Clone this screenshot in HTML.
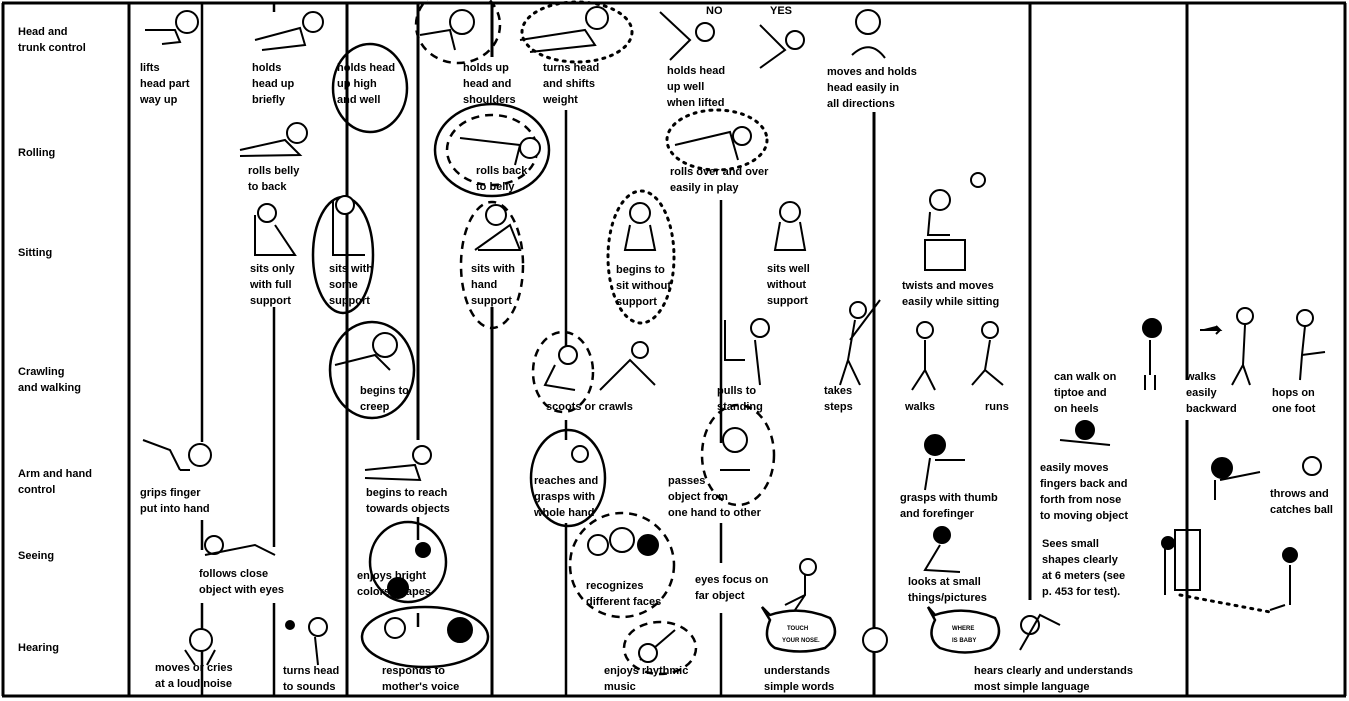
<!DOCTYPE html>
<html><head><meta charset="utf-8"><style>
html,body{margin:0;padding:0;background:#fff;}
svg{display:block;}
text{font-family:"Liberation Sans",sans-serif;font-size:11px;font-weight:bold;fill:#000;}
.l{stroke:#000;stroke-width:3;fill:none;}
.t{stroke:#000;stroke-width:2.5;fill:none;}
.c{stroke:#000;stroke-width:2.5;fill:none;}
.d{stroke:#000;stroke-width:2.5;fill:none;stroke-dasharray:8 6;}
.o{stroke:#000;stroke-width:3;fill:none;stroke-dasharray:2 6;stroke-linecap:round;}
.f{stroke:#000;stroke-width:2;fill:none;}
.h{stroke:#000;stroke-width:2;fill:#fff;}
.k{fill:#000;}
</style></head><body>
<svg width="1349" height="701" viewBox="0 0 1349 701" xmlns="http://www.w3.org/2000/svg">
<rect x="0" y="0" width="1349" height="701" fill="#fff"/>
<!-- borders -->
<line class="l" x1="2" y1="3" x2="1346" y2="3"/>
<line class="l" x1="2" y1="696" x2="1346" y2="696"/>
<line class="l" x1="3" y1="3" x2="3" y2="696"/>
<line class="l" x1="1345" y1="3" x2="1345" y2="696"/>
<!-- vertical connectors -->
<line class="l" x1="129" y1="3" x2="129" y2="696"/>
<line class="t" x1="202" y1="3" x2="202" y2="442"/>
<line class="t" x1="202" y1="520" x2="202" y2="550"/>
<line class="t" x1="202" y1="603" x2="202" y2="696"/>
<line class="t" x1="274" y1="3" x2="274" y2="12"/>
<line class="t" x1="274" y1="307" x2="274" y2="547"/>
<line class="t" x1="274" y1="603" x2="274" y2="696"/>
<line class="l" x1="347" y1="3" x2="347" y2="696"/>
<line class="l" x1="418" y1="3" x2="418" y2="440"/>
<line class="t" x1="418" y1="517" x2="418" y2="540"/>
<line class="t" x1="418" y1="613" x2="418" y2="627"/>
<line class="l" x1="492" y1="3" x2="492" y2="57"/>
<line class="l" x1="492" y1="307" x2="492" y2="696"/>
<line class="t" x1="566" y1="110" x2="566" y2="347"/>
<line class="t" x1="566" y1="420" x2="566" y2="440"/>
<line class="t" x1="566" y1="523" x2="566" y2="696"/>
<line class="t" x1="721" y1="200" x2="721" y2="443"/>
<line class="t" x1="721" y1="523" x2="721" y2="563"/>
<line class="t" x1="721" y1="613" x2="721" y2="696"/>
<line class="l" x1="874" y1="112" x2="874" y2="696"/>
<line class="l" x1="1030" y1="3" x2="1030" y2="600"/>
<line class="l" x1="1187" y1="3" x2="1187" y2="380"/>
<line class="l" x1="1187" y1="420" x2="1187" y2="696"/>

<!-- circles -->
<ellipse class="c" cx="370" cy="88" rx="37" ry="44"/>
<ellipse class="c" cx="343" cy="255" rx="30" ry="58"/>
<ellipse class="c" cx="372" cy="370" rx="42" ry="48"/>
<ellipse class="c" cx="568" cy="478" rx="37" ry="48"/>
<ellipse class="c" cx="408" cy="562" rx="38" ry="40"/>
<ellipse class="c" cx="425" cy="637" rx="63" ry="30"/>
<ellipse class="d" cx="458" cy="25" rx="42" ry="38"/>
<ellipse class="o" cx="577" cy="32" rx="55" ry="30"/>
<ellipse class="c" cx="492" cy="150" rx="57" ry="46"/>
<ellipse class="d" cx="492" cy="150" rx="45" ry="35"/>
<ellipse class="d" cx="492" cy="265" rx="31" ry="63"/>
<ellipse class="o" cx="641" cy="257" rx="33" ry="66"/>
<ellipse class="o" cx="717" cy="140" rx="50" ry="30"/>
<ellipse class="d" cx="563" cy="372" rx="30" ry="40"/>
<ellipse class="d" cx="738" cy="455" rx="36" ry="50"/>
<ellipse class="d" cx="622" cy="565" rx="52" ry="52"/>
<ellipse class="d" cx="660" cy="648" rx="36" ry="26"/>
<path class="c" d="M770 615 Q800 605 830 618 Q842 635 825 648 Q800 655 775 648 Q762 640 770 620 L762 607 Z"/>
<path class="c" d="M935 615 Q965 605 995 618 Q1005 635 990 648 Q965 657 940 648 Q926 638 935 620 L928 607 Z"/>
<text x="787" y="630" style="font-size:6px">TOUCH</text><text x="782" y="642" style="font-size:6px">YOUR NOSE.</text>
<text x="952" y="630" style="font-size:6px">WHERE</text><text x="952" y="642" style="font-size:6px">IS BABY</text>

<!-- simple figures -->
<g class="f">
<circle class="h" cx="187" cy="22" r="11"/><path d="M145 30 L175 30 L180 42 L162 44"/>
<circle class="h" cx="313" cy="22" r="10"/><path d="M255 40 L300 28 L305 45 L262 50"/>
<circle class="h" cx="462" cy="22" r="12"/><path d="M420 35 L450 30 L455 50"/>
<circle class="h" cx="597" cy="18" r="11"/><path d="M520 40 L585 30 L595 45 L530 52"/>
<circle class="h" cx="705" cy="32" r="9"/><path d="M660 12 L690 40 L670 60"/>
<circle class="h" cx="795" cy="40" r="9"/><path d="M760 25 L785 50 L760 68"/>
<circle class="h" cx="868" cy="22" r="12"/><path d="M852 55 Q870 38 885 58"/>
<circle class="h" cx="297" cy="133" r="10"/><path d="M240 150 L285 140 L300 155 L240 156"/>
<circle class="h" cx="530" cy="148" r="10"/><path d="M460 138 L520 145 L515 165"/>
<circle class="h" cx="742" cy="136" r="9"/><path d="M675 145 L730 132 L738 160"/>
<circle class="h" cx="267" cy="213" r="9"/><path d="M255 215 L255 255 L295 255 L275 225"/>
<circle class="h" cx="345" cy="205" r="9"/><path d="M333 200 L333 255 L365 255"/>
<circle class="h" cx="496" cy="215" r="10"/><path d="M475 250 L510 225 L520 250 L478 250"/>
<circle class="h" cx="640" cy="213" r="10"/><path d="M630 225 L625 250 L655 250 L650 225"/>
<circle class="h" cx="790" cy="212" r="10"/><path d="M780 222 L775 250 L805 250 L800 222"/>
<circle class="h" cx="940" cy="200" r="10"/><path d="M930 212 L928 235 L950 235 M925 240 h40 v30 h-40 z"/><circle class="h" cx="978" cy="180" r="7"/>
<circle class="h" cx="385" cy="345" r="12"/><path d="M335 365 L375 355 L390 370"/>
<circle class="h" cx="568" cy="355" r="9"/><path d="M555 365 L545 385 L575 390"/><circle class="h" cx="640" cy="350" r="8"/><path d="M600 390 L630 360 L655 385"/>
<circle class="h" cx="760" cy="328" r="9"/><path d="M725 320 v40 h20 M755 340 L760 385"/>
<circle class="h" cx="858" cy="310" r="8"/><path d="M855 320 L848 360 M850 340 L880 300 M848 360 L840 385 M848 360 L860 385"/>
<circle class="h" cx="925" cy="330" r="8"/><path d="M925 340 L925 370 L912 390 M925 370 L935 390"/>
<circle class="h" cx="990" cy="330" r="8"/><path d="M990 340 L985 370 L972 385 M985 370 L1003 385"/>
<circle class="k" cx="1152" cy="328" r="9"/><path d="M1150 340 L1150 375 M1145 375 L1145 390 M1155 375 L1155 390"/>
<circle class="h" cx="1245" cy="316" r="8"/><path d="M1245 325 L1243 365 L1232 385 M1243 365 L1250 385"/><path class="k" d="M1200 330 h20 l-4 -4 M1220 330 l-4 4"/>
<circle class="h" cx="1305" cy="318" r="8"/><path d="M1305 326 L1302 355 L1325 352 M1302 355 L1300 380"/>
<circle class="h" cx="200" cy="455" r="11"/><path d="M143 440 L170 450 L180 470 M180 470 L190 470"/>
<circle class="h" cx="422" cy="455" r="9"/><path d="M365 470 L415 465 L420 480 L365 478"/>
<circle class="h" cx="580" cy="454" r="8"/>
<circle class="h" cx="735" cy="440" r="12"/><path d="M720 470 L750 470"/>
<circle class="k" cx="935" cy="445" r="10"/><path d="M930 458 L925 490 M935 460 L965 460"/>
<circle class="k" cx="1085" cy="430" r="9"/><path d="M1060 440 L1110 445"/>
<circle class="k" cx="1222" cy="468" r="10"/><path d="M1215 480 L1215 500 M1220 480 L1260 472"/><circle class="h" cx="1312" cy="466" r="9"/>
<circle class="h" cx="214" cy="545" r="9"/><path d="M205 555 L255 545 L275 555"/>
<circle class="k" cx="423" cy="550" r="7"/><circle class="k" cx="398" cy="588" r="10"/>
<circle class="h" cx="598" cy="545" r="10"/><circle class="h" cx="622" cy="540" r="12"/><circle class="k" cx="648" cy="545" r="10"/>
<circle class="h" cx="808" cy="567" r="8"/><path d="M805 575 L805 595 L785 605 M805 595 L795 610"/>
<circle class="k" cx="942" cy="535" r="8"/><path d="M940 545 L925 570 L960 572"/>
<path d="M1165 540 v55 M1175 530 h25 v60 h-25 z"/><circle class="k" cx="1168" cy="543" r="6"/>
<circle class="k" cx="1290" cy="555" r="7"/><path d="M1290 565 v40 M1285 605 L1270 610"/>
<path class="o" d="M1180 595 L1270 612"/>
<circle class="h" cx="201" cy="640" r="11"/><path d="M185 650 L195 665 M215 650 L207 665"/>
<circle class="h" cx="318" cy="627" r="9"/><path d="M315 637 L318 665"/><circle class="k" cx="290" cy="625" r="4"/>
<circle class="h" cx="395" cy="628" r="10"/><circle class="k" cx="460" cy="630" r="12"/>
<path d="M640 660 L675 630"/><circle class="h" cx="648" cy="653" r="9"/>
<circle class="h" cx="875" cy="640" r="12"/>
<circle class="h" cx="1030" cy="625" r="9"/><path d="M1020 650 L1040 615 L1060 625"/>
</g>

<!-- row labels -->
<text x="18" y="35">Head and</text><text x="18" y="51">trunk control</text>
<text x="18" y="156">Rolling</text>
<text x="18" y="256">Sitting</text>
<text x="18" y="375">Crawling</text><text x="18" y="391">and walking</text>
<text x="18" y="477">Arm and hand</text><text x="18" y="493">control</text>
<text x="18" y="559">Seeing</text>
<text x="18" y="651">Hearing</text>

<text x="706" y="14">NO</text><text x="770" y="14">YES</text>

<g>
<text x="140" y="71">lifts</text><text x="140" y="87">head part</text><text x="140" y="103">way up</text>
<text x="252" y="71">holds</text><text x="252" y="87">head up</text><text x="252" y="103">briefly</text>
<text x="337" y="71">holds head</text><text x="337" y="87">up high</text><text x="337" y="103">and well</text>
<text x="463" y="71">holds up</text><text x="463" y="87">head and</text><text x="463" y="103">shoulders</text>
<text x="543" y="71">turns head</text><text x="543" y="87">and shifts</text><text x="543" y="103">weight</text>
<text x="667" y="74">holds head</text><text x="667" y="90">up well</text><text x="667" y="106">when lifted</text>
<text x="827" y="75">moves and holds</text><text x="827" y="91">head easily in</text><text x="827" y="107">all directions</text>
<text x="248" y="174">rolls belly</text><text x="248" y="190">to back</text>
<text x="476" y="174">rolls back</text><text x="476" y="190">to belly</text>
<text x="670" y="175">rolls over and over</text><text x="670" y="191">easily in play</text>
<text x="250" y="272">sits only</text><text x="250" y="288">with full</text><text x="250" y="304">support</text>
<text x="329" y="272">sits with</text><text x="329" y="288">some</text><text x="329" y="304">support</text>
<text x="471" y="272">sits with</text><text x="471" y="288">hand</text><text x="471" y="304">support</text>
<text x="616" y="273">begins to</text><text x="616" y="289">sit without</text><text x="616" y="305">support</text>
<text x="767" y="272">sits well</text><text x="767" y="288">without</text><text x="767" y="304">support</text>
<text x="902" y="289">twists and moves</text><text x="902" y="305">easily while sitting</text>
<text x="360" y="394">begins to</text><text x="360" y="410">creep</text>
<text x="546" y="410">scoots or crawls</text>
<text x="717" y="394">pulls to</text><text x="717" y="410">standing</text>
<text x="824" y="394">takes</text><text x="824" y="410">steps</text>
<text x="905" y="410">walks</text><text x="985" y="410">runs</text>
<text x="1054" y="380">can walk on</text><text x="1054" y="396">tiptoe and</text><text x="1054" y="412">on heels</text>
<text x="1186" y="380">walks</text><text x="1186" y="396">easily</text><text x="1186" y="412">backward</text>
<text x="1272" y="396">hops on</text><text x="1272" y="412">one foot</text>
<text x="140" y="496">grips finger</text><text x="140" y="512">put into hand</text>
<text x="366" y="496">begins to reach</text><text x="366" y="512">towards objects</text>
<text x="534" y="484">reaches and</text><text x="534" y="500">grasps with</text><text x="534" y="516">whole hand</text>
<text x="668" y="484">passes</text><text x="668" y="500">object from</text><text x="668" y="516">one hand to other</text>
<text x="900" y="501">grasps with thumb</text><text x="900" y="517">and forefinger</text>
<text x="1040" y="471">easily moves</text><text x="1040" y="487">fingers back and</text><text x="1040" y="503">forth from nose</text><text x="1040" y="519">to moving object</text>
<text x="1270" y="497">throws and</text><text x="1270" y="513">catches ball</text>
<text x="199" y="577">follows close</text><text x="199" y="593">object with eyes</text>
<text x="357" y="579">enjoys bright</text><text x="357" y="595">colors/shapes</text>
<text x="586" y="589">recognizes</text><text x="586" y="605">different faces</text>
<text x="695" y="583">eyes focus on</text><text x="695" y="599">far object</text>
<text x="908" y="585">looks at small</text><text x="908" y="601">things/pictures</text>
<text x="1042" y="547">Sees small</text><text x="1042" y="563">shapes clearly</text><text x="1042" y="579">at 6 meters (see</text><text x="1042" y="595">p. 453 for test).</text>
<text x="155" y="671">moves or cries</text><text x="155" y="687">at a loud noise</text>
<text x="283" y="674">turns head</text><text x="283" y="690">to sounds</text>
<text x="382" y="674">responds to</text><text x="382" y="690">mother's voice</text>
<text x="604" y="674">enjoys rhythmic</text><text x="604" y="690">music</text>
<text x="764" y="674">understands</text><text x="764" y="690">simple words</text>
<text x="974" y="674">hears clearly and understands</text><text x="974" y="690">most simple language</text>
</g>
</svg>
</body></html>
